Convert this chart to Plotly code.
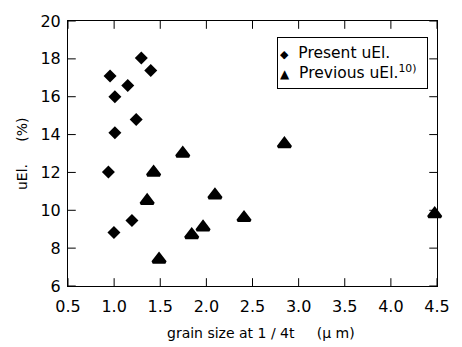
import plotly.graph_objects as go

present_x = [0.956, 1.008, 1.148, 1.295, 1.397, 1.008, 1.239, 0.938, 0.998, 1.193]
present_y = [17.1, 16.0, 16.59, 18.05, 17.38, 14.09, 14.79, 12.02, 8.83, 9.46]

previous_x = [1.744, 1.428, 1.358, 1.487, 1.841, 1.964, 2.093, 2.408, 4.475, 2.846]
previous_y = [13.0, 12.0, 10.5, 7.4, 8.7, 9.1, 10.8, 9.6, 9.8, 13.5]

x_ticks = [0.5, 1.0, 1.5, 2.0, 2.5, 3.0, 3.5, 4.0, 4.5]
y_ticks = [6, 8, 10, 12, 14, 16, 18, 20]

W, H = 462, 347
L, R, T, B = 68, 13, 15, 61
pw = W - L - R
ph = H - T - B
TICK_PX = 8
x_range = [x_ticks[0], x_ticks[-1]]
y_range = [y_ticks[0], y_ticks[-1]]

fig = go.Figure()

# tick marks on all four sides, built from the tick arrays in data units
dx = TICK_PX / pw * (x_range[1] - x_range[0])
dy = TICK_PX / ph * (y_range[1] - y_range[0])
tx, ty = [], []
for v in x_ticks:
    tx += [v, v, None, v, v, None]
    ty += [y_range[0], y_range[0] + dy, None, y_range[1] - dy, y_range[1], None]
for v in y_ticks:
    tx += [x_range[0], x_range[0] + dx, None, x_range[1] - dx, x_range[1], None]
    ty += [v, v, None, v, v, None]
fig.add_trace(go.Scatter(x=tx, y=ty, mode="lines", line=dict(color="black", width=1),
                         hoverinfo="skip", showlegend=False, cliponaxis=False))

fig.add_trace(go.Scatter(x=present_x, y=present_y, mode="markers", name="Present uEl.",
                         marker=dict(symbol="diamond", size=10, color="black", line=dict(width=0)),
                         cliponaxis=False))
fig.add_trace(go.Scatter(x=previous_x, y=previous_y, mode="markers", name="Previous uEl.<sup>10)</sup>",
                         marker=dict(symbol="triangle-up", size=11, color="black", line=dict(width=3, color="black")),
                         cliponaxis=False))

font = "DejaVu Sans, Liberation Sans, Arial, sans-serif"
axis_common = dict(showgrid=False, zeroline=False, showline=True, linecolor="black", linewidth=1,
                   mirror=True, ticks="", tickfont=dict(family=font, size=16, color="black"))
fig.update_xaxes(range=x_range, tickvals=x_ticks, ticktext=[f"{v:.1f}" for v in x_ticks],
                 ticklabelstandoff=6, **axis_common)
fig.update_yaxes(range=y_range, tickvals=y_ticks, ticktext=[str(v) for v in y_ticks],
                 ticklabelstandoff=3, **axis_common)

legend_text = ('<span style="font-size:11px">◆</span>&nbsp; Present uEl.<br>'
               '<span style="font-size:12px">▲</span>&nbsp; Previous uEl.<sup>10)</sup>')
fig.update_layout(
    width=W, height=H, margin=dict(l=L, r=R, t=T, b=B, pad=0),
    plot_bgcolor="white", paper_bgcolor="white",
    showlegend=False,
    annotations=[
        dict(text=legend_text, xref="paper", yref="paper",
             x=(283.5 - L) / pw, y=(H - B - 31.5) / ph, xanchor="left", yanchor="top",
             align="left", valign="middle", width=145, height=46,
             showarrow=False, bordercolor="black", borderwidth=1, borderpad=2,
             bgcolor="white", font=dict(family=font, size=15.5, color="black")),
        dict(text="grain size at 1 / 4t &nbsp;&nbsp;&nbsp; (μ m)", xref="paper", yref="paper",
             x=(267 - L) / pw, y=(H - B - 334) / ph, xanchor="center", yanchor="middle", showarrow=False,
             font=dict(family=font, size=14, color="black")),
        dict(text="uEl. &nbsp;&nbsp;&nbsp; (%)", xref="paper", yref="paper", textangle=-90,
             x=(20 - L) / pw, y=0.5, xanchor="center", yanchor="middle", showarrow=False,
             font=dict(family=font, size=14, color="black")),
    ],
)

fig.write_html("out.html")
